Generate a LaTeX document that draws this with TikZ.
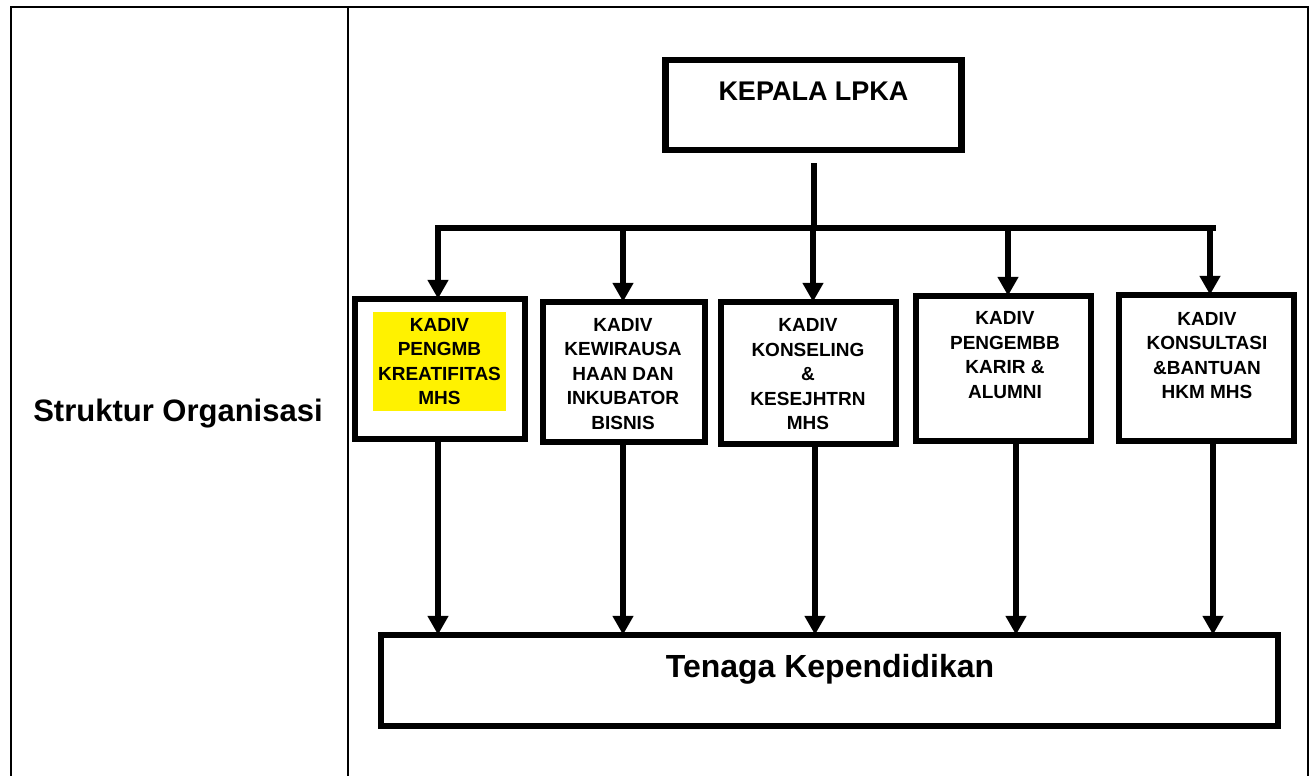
\documentclass[tikz,border=0pt]{standalone}
\usepackage{fontspec}
\setmainfont{Liberation Sans}
\usetikzlibrary{arrows.meta}
\tikzstyle{box}=[draw, line width=6.5pt, rectangle, inner sep=0pt]
\tikzstyle{divtext}=[align=center, font=\fontsize{19}{24.5}\selectfont\bfseries, inner sep=0pt]
\tikzstyle{link}=[line width=6pt]
\tikzstyle{arrowline}=[line width=6pt, -{Triangle[width=20pt,length=19pt]}]

\begin{document}
\begin{tikzpicture}[x=1pt,y=-1pt]
  \useasboundingbox (0,0) rectangle (1310,776);
  %% table frame
  \draw[line width=2pt] (11,776) -- (11,7) -- (1308,7) -- (1308,776);
  \draw[line width=2pt] (348,7) -- (348,776);
  \draw (178,414) node[font=\fontsize{31}{36}\selectfont\bfseries] (title) {Struktur Organisasi};

  %% boxes
  \draw (813.5,105) node[box, minimum width=296pt, minimum height=90pt] (kepala) {};
  \draw (813.5,91) node[font=\fontsize{27}{30}\selectfont\bfseries] (kepalatext) {KEPALA LPKA};

  \draw (440,369) node[box, minimum width=170pt, minimum height=140pt] (d1) {};
  \draw (624,372) node[box, minimum width=162pt, minimum height=140pt] (d2) {};
  \draw (808.5,373) node[box, minimum width=175pt, minimum height=142pt] (d3) {};
  \draw (1003.5,368.5) node[box, minimum width=175pt, minimum height=145pt] (d4) {};
  \draw (1206.5,368) node[box, minimum width=175pt, minimum height=146pt] (d5) {};

  \draw (439.5,361.5) node[divtext, fill=yellow, minimum width=133pt, minimum height=99pt] (t1) {KADIV\\PENGMB\\KREATIFITAS\\MHS};
  \draw (623,374) node[divtext] (t2) {KADIV\\KEWIRAUSA\\HAAN DAN\\INKUBATOR\\BISNIS};
  \draw (808,374.5) node[divtext] (t3) {KADIV\\KONSELING\\\&\\KESEJHTRN\\MHS};
  \draw (1005,355) node[divtext] (t4) {KADIV\\PENGEMBB\\KARIR \&\\ALUMNI};
  \draw (1207,355.5) node[divtext] (t5) {KADIV\\KONSULTASI\\\&BANTUAN\\HKM MHS};

  \draw (829.5,680.5) node[box, minimum width=897pt, minimum height=91pt] (staff) {};
  \draw (830,669) node[font=\fontsize{32}{36}\selectfont\bfseries] (stafftext) {Tenaga Kependidikan};

  %% connectors
  \coordinate (bus) at (813,228);
  \draw[link, shorten <=10pt] (kepala.south) -- (kepala.south |- bus);
  \draw[link] ([xshift=-5pt]bus -| d1.north) -- ([xshift=9.5pt]bus -| d5.north);
  \foreach \n/\a/\b in {d1/-2/-2, d2/-1/-1, d3/4.5/6.5, d4/4.5/12.5, d5/3.5/6.5} {
    \draw[arrowline, shorten >=-3pt] ([xshift=\a pt]bus -| \n.north) -- ([xshift=\a pt]\n.north);
    \draw[arrowline, shorten >=-3pt] ([xshift=\b pt]\n.south) -- ([xshift=\b pt]\n.south |- staff.north);
  }
\end{tikzpicture}
\end{document}
